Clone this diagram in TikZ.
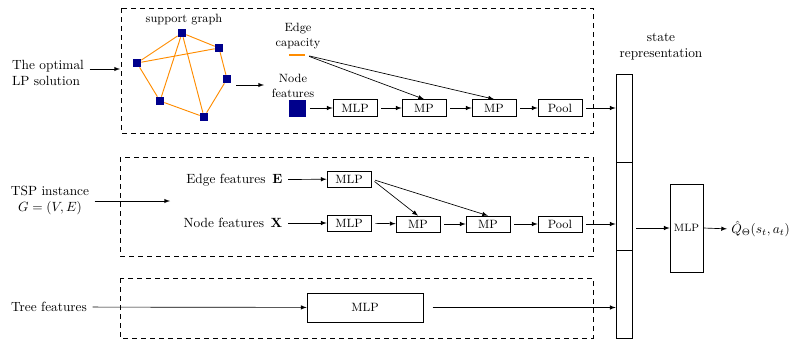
\documentclass[tikz,border=0pt]{standalone}
\usepackage{tikz}
\usetikzlibrary{calc}
\definecolor{navyblue}{RGB}{0,0,140}
\definecolor{dorange}{RGB}{255,140,0}
\tikzset{
	box/.style={draw, minimum width=33pt, minimum height=12.75pt, inner sep=0pt, font=\small},
	cell/.style={draw, minimum width=12pt, minimum height=66pt, inner sep=0pt},
	arr/.style={-latex, shorten <=3pt},
	dashbox/.style={draw, dash pattern=on 3.75pt off 3pt},
	gnode/.style={fill=navyblue, inner sep=0pt, minimum size=6pt},
	gedge/.style={draw=dorange, line width=0.7pt},
	lbl/.style={align=center, inner sep=1pt}
}

\begin{document}
\begin{tikzpicture}[x=0.75pt, y=-0.75pt, line width=0.5pt]
			%%%%% START %%%%%
			\useasboundingbox (0,0) rectangle (791,339);
			
			\draw[dashbox] (121,8) rectangle (593,133);
			\draw[dashbox] (120,157) rectangle (593,256);
			\draw[dashbox] (120,278) rectangle (593,338);
			
			% top: LP solution
			\node[lbl, align=left] (lp) at (48,73) {The optimal\\LP solution};
			\coordinate (lpin) at (120,69);
			\draw[arr] (lp.east |- lpin) -- (lpin);
			
			\node[lbl, font=\small] (sg) at (184,20) {support graph};
			\node[gnode] (g1) at (182,33) {};
			\node[gnode] (g2) at (219,48) {};
			\node[gnode] (g3) at (227,79) {};
			\node[gnode] (g4) at (204,117) {};
			\node[gnode] (g5) at (160,101) {};
			\node[gnode] (g6) at (137,63) {};
			\draw[gedge] (g6) -- (g1);
			\draw[gedge] (g1) -- (g2);
			\draw[gedge] (g1) -- (g5);
			\draw[gedge] (g1) -- (g4);
			\draw[gedge] (g6) -- (g2);
			\draw[gedge] (g2) -- (g3);
			\draw[gedge] (g3) -- (g4);
			\draw[gedge] (g6) -- (g5);
			\draw[gedge] (g5) -- (g4);
			
			\coordinate (grout) at (236,85);
			\coordinate (grin) at (264,85);
			\draw[-latex] (grout) -- (grin);
			
			\node[lbl, font=\small] (ecl) at (298,36) {Edge\\capacity};
			\node[fill=dorange, inner sep=0pt, minimum width=12pt, minimum height=2pt] (ecap) at (297,55) {};
			\node[lbl, font=\small] (nfl) at (293,86) {Node\\features};
			\node[fill=navyblue, inner sep=0pt, minimum size=12.75pt] (nf) at (297,108) {};
			
			\node[box] (mlp1) at (355,108) {MLP};
			\node[box] (mp1) at (424,108) {MP};
			\node[box] (mp2) at (494,108) {MP};
			\node[box] (pool1) at (560,108) {Pool};
			\draw[arr] (nf) -- (mlp1);
			\draw[arr] (mlp1) -- (mp1);
			\draw[arr] (mp1) -- (mp2);
			\draw[arr] (mp2) -- (pool1);
			\draw[arr] (ecap.east) -- (mp1.north);
			\draw[arr] (ecap.east) -- (mp2.north);
			
			% middle: TSP instance
			\node[lbl] (tsp) at (50,200) {TSP instance\\$G=(V,E)$};
			\coordinate (tspin) at (170,201);
			\draw[arr] (tsp.east |- tspin) -- (tspin);
			
			\node[lbl, anchor=east] (eft) at (284,180) {Edge features\enspace$\mathbf{E}$};
			\node[lbl, anchor=east] (nft) at (284,223) {Node features\enspace$\mathbf{X}$};
			\node[box, minimum height=12pt] (emlp) at (349,179) {MLP};
			\node[box, minimum height=12pt] (nmlp) at (349,223) {MLP};
			\node[box, minimum height=12pt] (mp3) at (418,224) {MP};
			\node[box, minimum height=12pt] (mp4) at (488,224) {MP};
			\node[box, minimum height=12pt] (pool2) at (560,224) {Pool};
			\draw[arr] (eft) -- (emlp);
			\draw[arr] (nft) -- (nmlp);
			\draw[arr] (nmlp) -- (mp3);
			\draw[arr] (mp3) -- (mp4);
			\draw[arr] (mp4) -- (pool2);
			\draw[arr] (emlp.east) -- (mp3.north);
			\draw[arr] (emlp.east) -- (mp4.north);
			
			% bottom: tree features
			\node[lbl] (tree) at (49,307) {Tree features};
			\node[box, minimum width=87pt, minimum height=21.75pt] (tmlp) at (365,307.5) {MLP};
			\draw[arr] (tree) -- (tmlp);
			
			% state representation
			\node[lbl] (srl) at (661,47) {state\\representation};
			\node[cell] (c1) at (624,118) {};
			\node[cell] (c2) at (624,206) {};
			\node[cell] (c3) at (624,294) {};
			\draw[arr] (pool1.east) -- (pool1.east -| c1.west);
			\draw[arr] (pool2.east) -- (pool2.east -| c2.west);
			\draw[arr, shorten <=7pt] (tmlp.east) -- (tmlp.east -| c3.west);
			
			\node[draw, minimum width=24.75pt, minimum height=66pt, inner sep=0pt, font=\footnotesize] (qmlp) at (686.5,228) {MLP};
			\node[lbl, anchor=west, inner sep=0pt] (qhat) at (731,229) {$\hat{Q}_\Theta(s_t,a_t)$};
			\draw[arr] (c2.east |- qmlp.west) -- (qmlp.west);
			\draw[-latex, shorten >=3pt] (qmlp.east) -- (qhat.west);
			
			%%%%% END %%%%%
		\end{tikzpicture}
\end{document}
